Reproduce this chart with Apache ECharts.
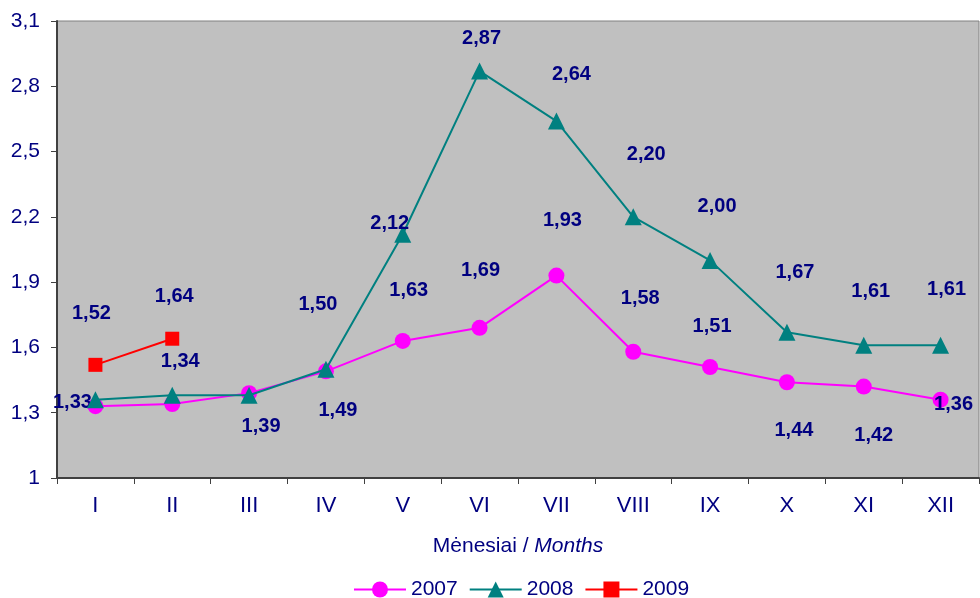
<!DOCTYPE html>
<html>
<head>
<meta charset="utf-8">
<script src="https://cdn.jsdelivr.net/npm/echarts@6/dist/echarts.min.js"></script>
<style>html,body{margin:0;padding:0;background:#fff}#c{width:980px;height:598px}</style>
</head>
<body>
<div id="c"></div>
<script>
var months = ['I','II','III','IV','V','VI','VII','VIII','IX','X','XI','XII'];
var yTicks = [1, 1.3, 1.6, 1.9, 2.2, 2.5, 2.8, 3.1];
var s2007 = [1.33, 1.34, 1.39, 1.49, 1.63, 1.69, 1.93, 1.58, 1.51, 1.44, 1.42, 1.36];
var s2008 = [1.36, 1.38, 1.38, 1.50, 2.12, 2.87, 2.64, 2.20, 2.00, 1.67, 1.61, 1.61];
var s2009 = [1.52, 1.64];

// label offsets (styling only)
var off2007 = [[-23,-4],[8,-43],[12,33],[12,39],[6,-50],[1,-57],[6,-55],[7,-53],[2,-41],[7,48],[10,49],[13,5]];
var off2008 = [null,null,null,[-8,-65],[-13,-11],[2,-33],[15,-47],[13,-62],[7,-54],[8,-60],[7,-54],[6,-56]];
var off2009 = [[-4,-51],[2,-42]];

var navy = '#000080';
var FONT = 'Liberation Sans, Arial, sans-serif';
function fmt(v){ return v.toFixed(2).replace('.', ','); }
function build(vals, offs){
  return vals.map(function(v, i){
    var o = offs[i];
    return {
      value: v,
      label: o ? { show: true, position: 'inside', offset: o } : { show: false }
    };
  });
}
var labelStyle = {
  color: navy, fontWeight: 'bold', fontSize: 20, fontFamily: FONT,
  formatter: function(p){ return fmt(p.value); }
};

var chart = echarts.init(document.getElementById('c'), null, {renderer: 'canvas'});
chart.setOption({
  animation: false,
  textStyle: { fontFamily: FONT },
  grid: { left: 57, top: 21, right: 1, bottom: 120, show: true, backgroundColor: '#c0c0c0', borderColor: '#808080', borderWidth: 1 },
  legend: {
    top: 574, left: 348, itemWidth: 52, itemHeight: 20, itemGap: 11,
    textStyle: { color: navy, fontSize: 21 },
    data: ['2007', '2008', '2009']
  },
  xAxis: {
    type: 'category', data: months, boundaryGap: true,
    name: '{a|Mėnesiai / }{b|Months}', nameLocation: 'middle', nameGap: 58,
    nameTextStyle: { rich: { a: { color: navy, fontSize: 21 }, b: { color: navy, fontSize: 21, fontStyle: 'italic' } } },
    axisLine: { lineStyle: { color: '#404040', width: 2 } },
    axisTick: { show: true, length: 6, lineStyle: { color: '#404040' }, alignWithLabel: false },
    axisLabel: { color: navy, fontSize: 22, margin: 17 }
  },
  yAxis: {
    type: 'value', min: 1, max: 3.1, interval: 0.3,
    axisLine: { show: true, lineStyle: { color: '#404040', width: 2 } },
    axisTick: { show: true, length: 6, lineStyle: { color: '#404040' } },
    splitLine: { show: false },
    axisLabel: { color: navy, fontSize: 21, margin: 17, formatter: function(v){ return (Math.round(v*10)/10).toString().replace('.', ','); } }
  },
  series: [
    { name: '2007', type: 'line', data: build(s2007, off2007), symbol: 'circle', symbolSize: 16,
      lineStyle: { color: '#ff00ff', width: 2 }, itemStyle: { color: '#ff00ff' }, label: labelStyle, z: 2 },
    { name: '2008', type: 'line', data: build(s2008, off2008), symbol: 'triangle', symbolSize: 17,
      lineStyle: { color: '#008080', width: 2 }, itemStyle: { color: '#008080' }, label: labelStyle, z: 3 },
    { name: '2009', type: 'line', data: build(s2009, off2009), symbol: 'rect', symbolSize: 14,
      lineStyle: { color: '#ff0000', width: 2 }, itemStyle: { color: '#ff0000' }, label: labelStyle, z: 4 }
  ]
});
</script>
</body>
</html>
